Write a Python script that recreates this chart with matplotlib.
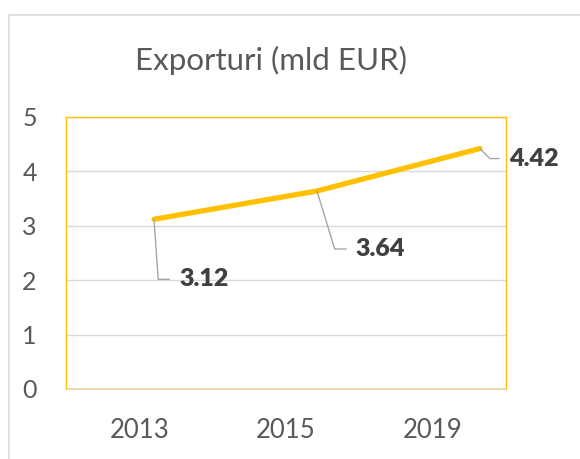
import matplotlib
matplotlib.use("Agg")
import matplotlib.pyplot as plt
from matplotlib.patches import Rectangle

plt.rcParams['font.family'] = ['Lato', 'DejaVu Sans']

# data
years = ['2013', '2015', '2019']
exports = [3.12, 3.64, 4.42]
value_labels = ['3.12', '3.64', '4.42']
y_ticks = [0, 1, 2, 3, 4, 5]

# label placement (offset in pixels from the point, angle of leader line)
label_dx = [25, 39, 29]
label_dy = [-60, -58, -10]
leader_angle = [-86, -73, -45]

W, H = 580, 459
fig = plt.figure(figsize=(W / 100, H / 100), dpi=100)

# chart border (only left and top are visible in the crop)
fig.add_artist(Rectangle((9 / W, -0.5), 2, 0.5 + 1 - 15 / H, transform=fig.transFigure,
                         fill=False, edgecolor='#D9D9D9', linewidth=1.2))

left, right, top, bottom = 66, 506, 117, 389
ax = fig.add_axes([left / W, 1 - bottom / H, (right - left) / W, (bottom - top) / H])
ax.set_xlim(-0.5, len(years) - 0.5)
ax.set_ylim(0, 5)
ax.set_yticks(y_ticks)
ax.set_xticks(range(len(years)))
ax.set_xticklabels(years)
ax.tick_params(axis='y', length=0, pad=21, labelsize=18, labelcolor='#595959')
ax.tick_params(axis='x', length=0, pad=21, labelsize=18.5, labelcolor='#595959')
ax.grid(axis='y', color='#D9D9D9', linewidth=1)
ax.set_axisbelow(True)
for s in ['left', 'right', 'top']:
    ax.spines[s].set_color('#FFC000')
    ax.spines[s].set_linewidth(1)
ax.spines['bottom'].set_color('#E6D3A0')
ax.spines['bottom'].set_linewidth(1.2)

# the line sits on its own horizontal scale (as in the source chart)
ax2 = ax.twiny()
ax2.set_xlim(-0.54, 2.16)
ax2.set_ylim(0, 5)
ax2.axis('off')
ax2.plot(range(len(exports)), exports, color='#FFC000', linewidth=3.8,
         solid_capstyle='round')

for i, (v, txt) in enumerate(zip(exports, value_labels)):
    ax2.annotate(txt, xy=(i, v), xytext=(label_dx[i], label_dy[i]),
                 textcoords='offset pixels', ha='left', va='center',
                 fontsize=18, fontweight='heavy', color='#404040',
                 arrowprops=dict(arrowstyle='-', color='#A6A6A6', lw=1,
                                 shrinkA=5, shrinkB=0, relpos=(0, 0.5),
                                 connectionstyle='angle,angleA=180,angleB=%d,rad=0'
                                 % leader_angle[i]))

fig.text(271 / W, 1 - 60 / H, 'Exporturi (mld EUR)', ha='center', va='center',
         fontsize=22.5, color='#595959')

fig.savefig('out.png', dpi=100)
